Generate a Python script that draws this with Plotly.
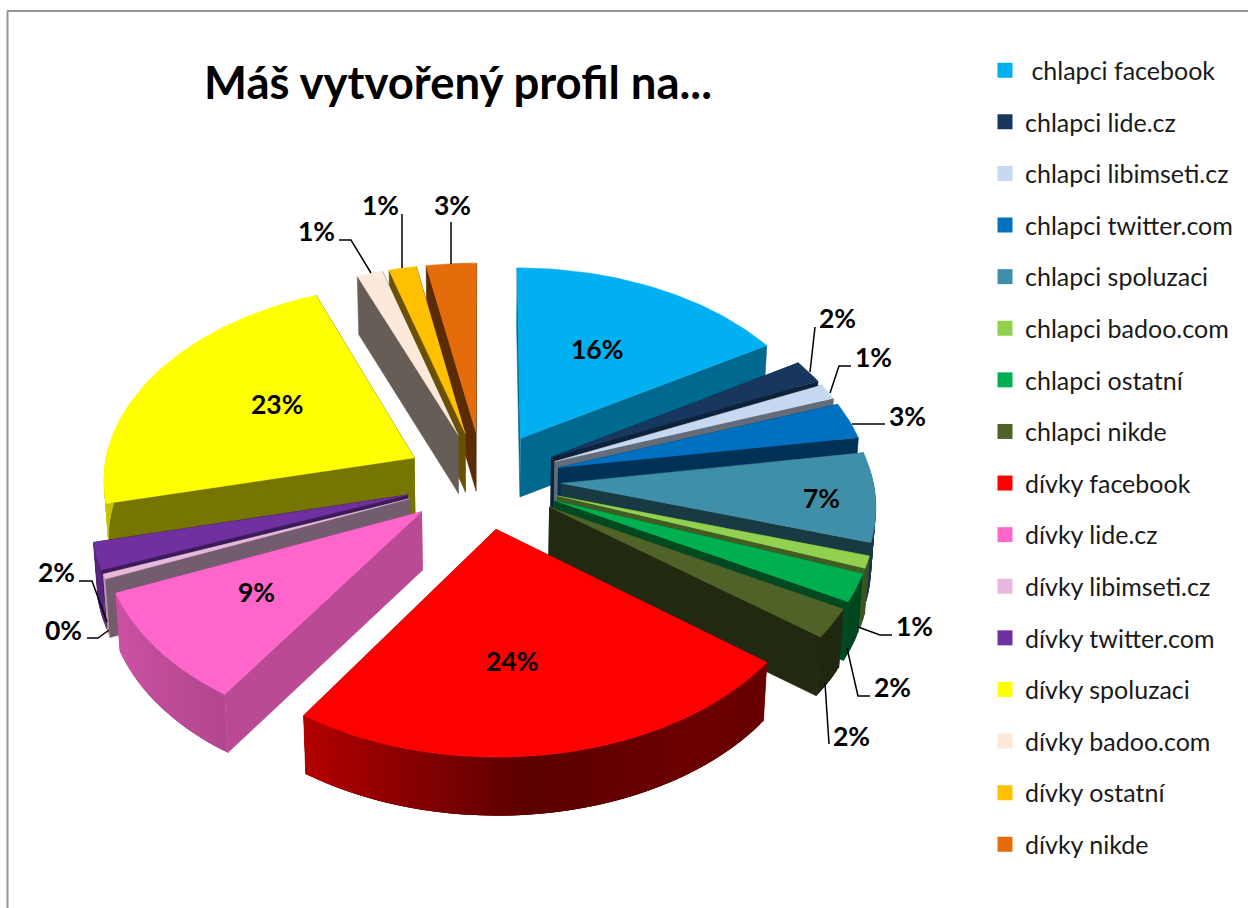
import numpy as np
import plotly.graph_objects as go

# ---------- data ----------
categories = ["chlapci facebook", "chlapci lide.cz", "chlapci libimseti.cz", "chlapci twitter.com",
              "chlapci spoluzaci", "chlapci badoo.com", "chlapci ostatní", "chlapci nikde",
              "dívky facebook", "dívky lide.cz", "dívky libimseti.cz", "dívky twitter.com",
              "dívky spoluzaci", "dívky badoo.com", "dívky ostatní", "dívky nikde"]
values = [16.3, 1.9, 1.3, 3.0, 7.3, 1.0, 2.3, 2.4, 23.95, 9.3, 0.4, 2.2, 22.8, 1.5, 1.6, 2.91]
labels = ["16%", "2%", "1%", "3%", "7%", "1%", "2%", "2%", "24%", "9%", "0%", "2%", "23%", "1%", "1%", "3%"]

# ---------- styles ----------
colors = ["#00B0F0", "#17375E", "#C6D9F0", "#0070C0", "#3F8FA8", "#92D050", "#00B050", "#4F6228",
          "#FF0000", "#FF66CC", "#E6B9DC", "#7030A0", "#FFFF00", "#FDE9D9", "#FFC000", "#E46C0A"]
face_shade = [0.60, 0.62, 0.50, 0.45, 0.40, 0.45, 0.42, 0.43, 0.55, 0.73, 0.50, 0.55, 0.46, 0.40, 0.42, 0.40]
CX, CY, A, B, P, H, PULL = 483, 480, 312, 195, 0.0985, 58.5, 0.25
label_pos = {0: (597, 349), 1: (837, 318), 2: (873, 357), 3: (907, 416), 4: (821, 498), 5: (914, 626),
             6: (892, 687), 7: (851, 736), 8: (512, 661), 9: (256, 592), 10: (63, 630), 11: (56, 572),
             12: (277, 404), 13: (316, 231), 14: (380, 205), 15: (452, 205)}
leaders = [[(810, 372), (815, 327)], [(830, 393), (839, 366), (851, 366)], [(852, 424), (885, 424)],
           [(858, 627), (880, 635), (892, 635)], [(847, 648), (858, 696), (870, 696)], [(825, 683), (829, 744)],
           [(107, 622), (92, 581), (79, 581)], [(109, 630), (98, 638), (87, 638)],
           [(371, 273), (351, 240), (339, 240)], [(402, 268), (402, 214)], [(451, 264), (451, 222)]]
FONT = "Lato, Carlito, sans-serif"


def project(X, Y, Z=0.0):
    X, Y, Z = np.asarray(X, float), np.asarray(Y, float), np.asarray(Z, float)
    w = 1 / (1 + P * Y)
    return CX + A * X * w * (1 - 0.012 * Z), CY - B * Y * w + H * Z


def shade(hex_color, f):
    r, g, b = int(hex_color[1:3], 16), int(hex_color[3:5], 16), int(hex_color[5:7], 16)
    return f"rgb({int(r*f)},{int(g*f)},{int(b*f)})"


def wall_factor(theta_deg):
    return np.interp(theta_deg, [0, 90, 150, 175, 213, 245, 300, 360],
                     [0.60, 0.40, 0.42, 0.36, 0.70, 0.80, 0.72, 0.60])


fig = go.Figure()


def poly(xs, ys, color, lw=0.6):
    fig.add_trace(go.Scatter(x=list(xs), y=list(ys), mode="lines", fill="toself", fillcolor=color,
                             line=dict(color=color, width=lw), hoverinfo="skip", showlegend=False))


total = sum(values)
edges = np.cumsum([0] + values) / total * 360.0
mids = (edges[:-1] + edges[1:]) / 2
order = np.argsort(-np.cos(np.radians(mids)))
annots = []

for i in order:
    t0, t1, m = edges[i], edges[i + 1], mids[i]
    ox, oy = PULL * np.sin(np.radians(m)), PULL * np.cos(np.radians(m))
    n = max(3, int((t1 - t0) / 1.0) + 1)
    th = np.radians(np.linspace(t0, t1, n))
    rx, ry = ox + np.sin(th), oy + np.cos(th)
    fc = shade(colors[i], face_shade[i])
    # radial cut faces
    for tt in (th[0], th[-1]):
        ex, ey = ox + np.sin(tt), oy + np.cos(tt)
        a = project(np.array([ox, ex, ex, ox]), np.array([oy, ey, ey, oy]), np.array([0, 0, 1, 1]))
        poly(a[0], a[1], fc)
    # outer wall: only the part facing the viewer; strips overlap the next one, so no seams show
    for k in range(n - 1):
        mid_t = (th[k] + th[k + 1]) / 2
        if np.cos(mid_t) > 0.05:
            continue
        sx, sy = rx[k:k + 4], ry[k:k + 4]
        tx, ty = project(sx, sy, 0)
        bx, by = project(sx, sy, 1)
        poly(np.r_[tx, bx[::-1]], np.r_[ty, by[::-1]], shade(colors[i], wall_factor(np.degrees(mid_t))), lw=0)
    # top face
    tx, ty = project(np.r_[ox, rx], np.r_[oy, ry], 0)
    poly(tx, ty, colors[i])
    # percentage label
    lx, ly = label_pos[i]
    annots.append(dict(x=lx, y=ly, text=f"<b>{labels[i]}</b>", showarrow=False,
                       font=dict(size=26.5, color="#000000", family=FONT), xref="x", yref="y"))

# leader lines
lx, ly = [], []
for seg in leaders:
    lx += [p[0] for p in seg] + [None]
    ly += [p[1] for p in seg] + [None]
fig.add_trace(go.Scatter(x=lx, y=ly, mode="lines", line=dict(color="#000000", width=1.5),
                         hoverinfo="skip", showlegend=False))

# legend entries
for i, name in enumerate(categories):
    fig.add_trace(go.Scatter(x=[None], y=[None], mode="markers", name=("\u00a0" if i == 0 else "") + name,
                             legendgroup=name,
                             marker=dict(symbol="square", size=15, color=colors[i])))

annots.append(dict(x=458, y=81, text="<b>Máš vytvořený profil na...</b>", showarrow=False, xref="x", yref="y",
                   font=dict(size=45.5, color="#000000", family=FONT)))

fig.update_layout(
    width=1248, height=908, margin=dict(l=0, r=0, t=0, b=0),
    paper_bgcolor="#FFFFFF", plot_bgcolor="#FFFFFF",
    xaxis=dict(range=[0, 1248], visible=False, fixedrange=True),
    yaxis=dict(range=[908, 0], visible=False, fixedrange=True),
    annotations=annots,
    shapes=[dict(type="line", x0=7.5, x1=7.5, y0=11, y1=908, line=dict(color="#969696", width=2)),
            dict(type="line", x0=7, x1=1248, y0=11, y1=11, line=dict(color="#969696", width=2))],
    legend=dict(x=985 / 1248, y=1 - 47.5 / 908, xanchor="left", yanchor="top", tracegroupgap=16.1,
                font=dict(size=25, color="#1a1a1a", family=FONT), itemwidth=30, bgcolor="rgba(0,0,0,0)",
                traceorder="grouped", itemclick=False, itemdoubleclick=False),
    showlegend=True,
)
fig.write_html("out.html", config={"displayModeBar": False},
               post_script="document.body.style.margin='0';document.body.style.overflow='hidden';")
